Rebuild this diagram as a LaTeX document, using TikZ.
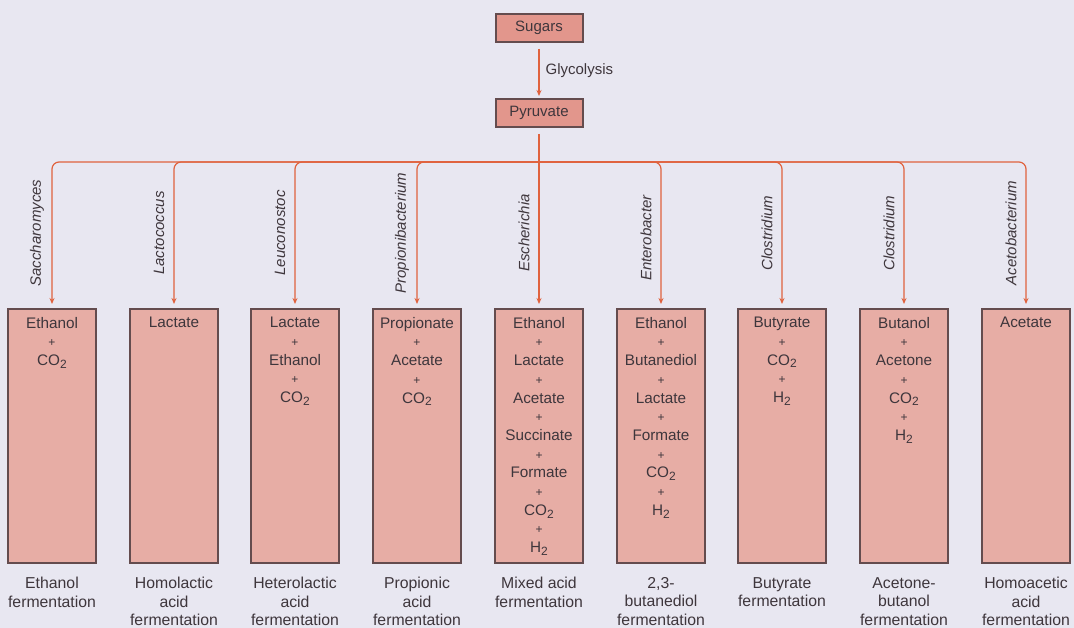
\documentclass[tikz,border=0pt]{standalone}
\usepackage{fontspec}
\setmainfont{Liberation Sans}
\usetikzlibrary{arrows.meta}
\definecolor{bgc}{RGB}{232,231,241}
\definecolor{boxfill}{RGB}{231,173,165}
\definecolor{topfill}{RGB}{226,150,140}
\definecolor{boxline}{RGB}{100,76,78}
\definecolor{conncol}{RGB}{224,98,62}
\definecolor{txt}{RGB}{62,54,60}
\newcommand\mysub[1]{\raisebox{-0.35ex}{\fontsize{12}{12}\selectfont #1}}
\newcommand\pl{{\fontsize{12}{18.7}\selectfont +}}
\tikzset{
  bigbox/.style={draw=boxline, line width=2pt, fill=boxfill, minimum width=88pt, minimum height=254pt, inner sep=0pt},
  topbox/.style={draw=boxline, line width=2pt, fill=topfill, minimum width=87pt, minimum height=28pt, inner sep=0pt, text=txt, font=\fontsize{15}{17}\selectfont},
  content/.style={anchor=north, align=center, inner sep=0pt, text=txt, font=\fontsize{15.3}{18.7}\selectfont},
  lab/.style={anchor=north, align=center, inner sep=0pt, text=txt, font=\fontsize{15.8}{18.5}\selectfont},
  species/.style={rotate=90, inner sep=0pt, text=txt, font=\fontsize{15}{16}\selectfont\itshape},
  trunk/.style={draw=conncol, line width=1.2pt},
  conn/.style={draw=conncol, line width=1.2pt, -{Stealth[length=6pt,width=5pt]}},
}
\begin{document}
\begin{tikzpicture}[x=1pt,y=-1pt]
\useasboundingbox (0,0) rectangle (1074,628);
\fill[bgc] (0,0) rectangle (1074,628);

\node[topbox] (sug) at (539,28) {Sugars};
\node[topbox] (pyr) at (539,113) {Pyruvate};
\draw[conn, shorten <=6pt, shorten >=2pt] (sug) -- (pyr)
  node[midway, right=6pt, inner sep=0pt, text=txt, font=\fontsize{15}{17}\selectfont] (gly) {Glycolysis};
\coordinate (hb) at (539,162);

% boxes
\foreach \i/\x in {1/52,2/174,3/295,4/417,5/539,6/661,7/782,8/904,9/1026}{
  \node[bigbox] (b\i) at (\x,436) {};
}

% connectors
\draw[trunk, shorten <=6pt] (pyr.south) -- (hb);
\foreach \i in {1,2,3,4,6,7,8,9}{
  \draw[conn, rounded corners=7pt, shorten >=4pt] (hb) -| (b\i.north);
}
\draw[conn, shorten >=4pt] (hb) -- (b5.north);

% species
\node[species] (s1) at (37,233) {Saccharomyces};
\node[species] (s2) at (159,233) {Lactococcus};
\node[species] (s3) at (280,233) {Leuconostoc};
\node[species] (s4) at (402,233) {Propionibacterium};
\node[species] (s5) at (524,233) {Escherichia};
\node[species] (s6) at (646,238) {Enterobacter};
\node[species] (s7) at (767,233) {Clostridium};
\node[species] (s8) at (889,233) {Clostridium};
\node[species] (s9) at (1011,233) {Acetobacterium};

% contents
\node[content] (c1) at ([yshift=-9pt]b1.north) {Ethanol\\\pl\\CO\mysub{2}};
\node[content] (c2) at ([yshift=-9pt]b2.north) {Lactate};
\node[content] (c3) at ([yshift=-9pt]b3.north) {Lactate\\\pl\\Ethanol\\\pl\\CO\mysub{2}};
\node[content] (c4) at ([yshift=-9pt]b4.north) {Propionate\\\pl\\Acetate\\\pl\\CO\mysub{2}};
\node[content] (c5) at ([yshift=-9pt]b5.north) {Ethanol\\\pl\\Lactate\\\pl\\Acetate\\\pl\\Succinate\\\pl\\Formate\\\pl\\CO\mysub{2}\\\pl\\H\mysub{2}};
\node[content] (c6) at ([yshift=-9pt]b6.north) {Ethanol\\\pl\\Butanediol\\\pl\\Lactate\\\pl\\Formate\\\pl\\CO\mysub{2}\\\pl\\H\mysub{2}};
\node[content] (c7) at ([yshift=-9pt]b7.north) {Butyrate\\\pl\\CO\mysub{2}\\\pl\\H\mysub{2}};
\node[content] (c8) at ([yshift=-9pt]b8.north) {Butanol\\\pl\\Acetone\\\pl\\CO\mysub{2}\\\pl\\H\mysub{2}};
\node[content] (c9) at ([yshift=-9pt]b9.north) {Acetate};

% labels
\node[lab] (l1) at ([yshift=-13pt]b1.south) {Ethanol\\fermentation};
\node[lab] (l2) at ([yshift=-13pt]b2.south) {Homolactic\\acid\\fermentation};
\node[lab] (l3) at ([yshift=-13pt]b3.south) {Heterolactic\\acid\\fermentation};
\node[lab] (l4) at ([yshift=-13pt]b4.south) {Propionic\\acid\\fermentation};
\node[lab] (l5) at ([yshift=-13pt]b5.south) {Mixed acid\\fermentation};
\node[lab] (l6) at ([yshift=-13pt]b6.south) {2,3-\\butanediol\\fermentation};
\node[lab] (l7) at ([yshift=-13pt]b7.south) {Butyrate\\fermentation};
\node[lab] (l8) at ([yshift=-13pt]b8.south) {Acetone-\\butanol\\fermentation};
\node[lab] (l9) at ([yshift=-13pt]b9.south) {Homoacetic\\acid\\fermentation};
\end{tikzpicture}
\end{document}
